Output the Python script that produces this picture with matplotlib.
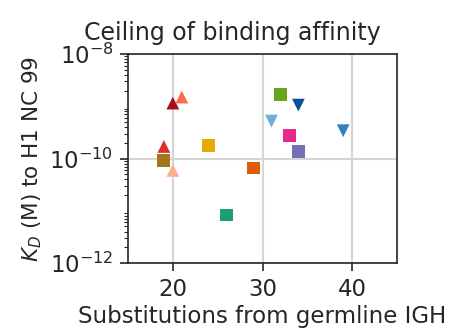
import numpy as np
import matplotlib
matplotlib.use("Agg")
import matplotlib.pyplot as plt

# substitutions from germline, KD (M), marker, colour
subs = [20, 21, 19, 20, 19, 24, 29, 26, 32, 34, 31, 33, 34, 39]
kd = [1.15e-9, 1.5e-9, 1.7e-10, 5.9e-11, 9e-11, 1.8e-10, 6.6e-11, 8.3e-12,
      1.7e-9, 1.05e-9, 5.2e-10, 2.8e-10, 1.35e-10, 3.4e-10]
markers = ["^", "^", "^", "^", "s", "s", "s", "s", "s", "v", "v", "s", "s", "v"]
colors = ["#a50f15", "#fb6a4a", "#de2d26", "#fcae91", "#a6761d", "#e6ab02",
          "#d95f02", "#1b9e77", "#66a61e", "#08519c", "#6baed6", "#e7298a",
          "#7570b3", "#3182bd"]

plt.rcParams["font.family"] = "DejaVu Sans"
fig = plt.figure(figsize=(4.5, 3.31), dpi=100)
ax = fig.add_axes([128 / 450, 1 - 263 / 331, 269 / 450, 209 / 331])

for x, y, m, c in zip(subs, kd, markers, colors):
    ax.scatter(x, y, marker=m, s=85, color=c, edgecolors="none", zorder=3)

ax.set_yscale("log")
ax.set_xlim(15, 45)
ax.set_ylim(1e-12, 1e-8)
ax.set_xticks([20, 30, 40])
ax.set_yticks([1e-12, 1e-10, 1e-8])
ax.grid(True, which="major", color="#d5d5d5", linewidth=1.5)
ax.set_axisbelow(True)
for s in ax.spines.values():
    s.set_color("#262626")
    s.set_linewidth(1.2)
ax.tick_params(axis="both", which="major", labelsize=16.5, length=5.5, width=1.2,
               pad=5, colors="#262626", labelcolor="#262626")
ax.tick_params(axis="y", which="minor", length=3, width=0.8, colors="#262626")

ax.set_xlabel("Substitutions from germline IGH", fontsize=16.5, color="#262626",
              labelpad=3)
ax.set_ylabel("$K_D$ (M) to H1 NC 99", fontsize=15.5, color="#262626",
              labelpad=4)
ax.set_title("Ceiling of binding affinity", fontsize=17, color="#262626",
             x=0.387, pad=10)

fig.savefig("out.png", dpi=100)
